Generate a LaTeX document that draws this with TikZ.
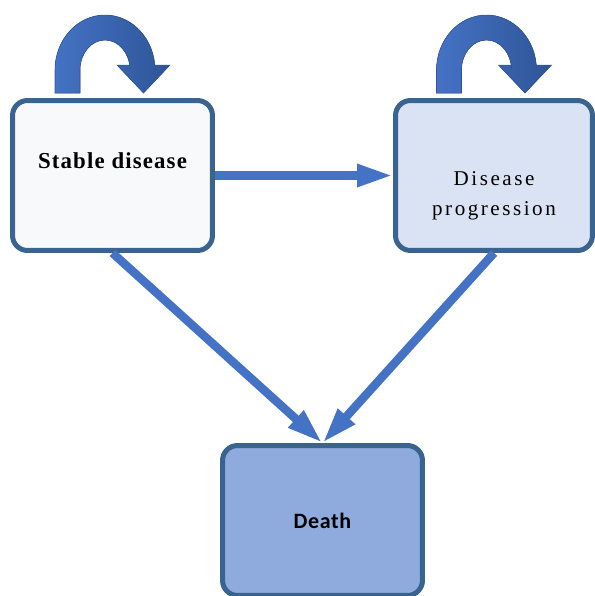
\documentclass[tikz,border=0pt]{standalone}
\usepackage{fontspec}
\setmainfont{Liberation Serif}
\newfontfamily\statefont[LetterSpace=5]{Liberation Serif}
\newfontfamily\progfont[LetterSpace=12]{Liberation Serif}
\newfontfamily\deathfont[LetterSpace=3]{Carlito}
\usetikzlibrary{arrows.meta,positioning}
\definecolor{boxline}{HTML}{3A6490}
\definecolor{stablefill}{HTML}{F8F9FA}
\definecolor{progfill}{HTML}{DAE3F3}
\definecolor{deathfill}{HTML}{8FAADC}
\definecolor{arrowblue}{HTML}{4472C4}
\definecolor{arrowdark}{HTML}{2F5597}
\tikzset{
  statebox/.style={
    rectangle, rounded corners=0.3cm, draw=boxline, fill=#1,
    line width=0.1cm, minimum width=4cm, minimum height=3cm,
    align=center, inner sep=2pt
  },
  statebox/.default=stablefill,
  flowarrow/.style={
    -{Triangle[length=0.72cm, width=0.42cm]}, line width=0.17cm, draw=arrowblue
  },
  looparrow/.style={
    left color=arrowblue, right color=arrowdark, draw=arrowdark, line width=0.3pt
  },
}

\begin{document}
\begin{tikzpicture}[x=0.02cm, y=-0.02cm]
  \useasboundingbox (0,0) rectangle (595,596);
  \node[statebox, font=\fontsize{13}{16}\statefont\bfseries] (sd) at (112.5,175.5)
    {Stable disease\\[1pt]\mbox{}};
  \node[statebox=progfill, minimum width=3.94cm,
        font=\fontsize{12}{17}\progfont] (dp) at (494,175.5)
    {\mbox{}\\[13.6pt]Disease\\progression};
  \node[statebox=deathfill, font=\fontsize{12.5}{15}\deathfont\bfseries] (dth)
    at (322.5,520.5) {Death};
  % transitions
  \draw[flowarrow] (sd.east) -- (dp.west);
  \draw[flowarrow] (sd.south) -- (dth.north);
  \draw[flowarrow] (dp.south) -- (dth.north);
  % stay in the same state
  \foreach \b in {sd,dp} {
    \begin{scope}[shift={(\b.north)}]
      \filldraw[looparrow] (-57.5,-5) -- (-57.5,-28)
        arc[start angle=180, end angle=360, x radius=50, y radius=55]
        -- (42.5,-33) -- (57.5,-33) -- (31,-5) -- (4.5,-33) -- (17.5,-33)
        -- (17.5,-28)
        arc[start angle=0, end angle=-180, x radius=25, y radius=30]
        -- (-32.5,-5) -- cycle;
    \end{scope}
  }
\end{tikzpicture}
\end{document}
